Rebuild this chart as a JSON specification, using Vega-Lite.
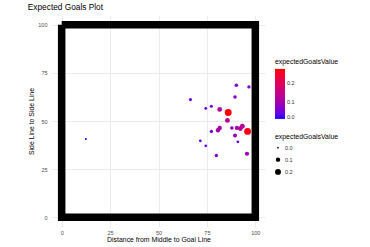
{
  "$schema": "https://vega.github.io/schema/vega-lite/v6.json",
  "width": 213,
  "height": 212,
  "autosize": {"type": "none"},
  "padding": {"left": 52, "top": 15, "right": 105, "bottom": 20},
  "background": "white",
  "title": {"text": "Expected Goals Plot", "anchor": "start", "fontSize": 8.3, "fontWeight": "normal", "color": "black", "font": "Liberation Sans", "offset": -2},
  "config": {
    "view": {"stroke": null},
    "font": "Liberation Sans",
    "axis": {
      "domain": false, "ticks": false,
      "labelFont": "Liberation Sans", "labelFontSize": 5.5, "labelColor": "#4D4D4D",
      "titleFont": "Liberation Sans", "titleFontSize": 6.9, "titleFontWeight": "normal", "titleColor": "black",
      "gridColor": "#EBEBEB",
      "gridWidth": {"condition": {"test": "datum.value % 25 !== 0", "value": 0.5}, "value": 1},
      "labelExpr": "datum.value % 25 === 0 ? datum.label : ''",
      "labelFlush": false, "labelOverlap": false
    },
    "legend": {
      "titleFont": "Liberation Sans", "titleFontSize": 6.9, "titleFontWeight": "normal", "titleColor": "black",
      "labelFont": "Liberation Sans", "labelFontSize": 5.5, "labelColor": "#333333"
    }
  },
  "datasets": {
    "pitch": [
      {"px": 0, "py": 100, "o": 0},
      {"px": 100, "py": 100, "o": 1},
      {"px": 100, "py": 0, "o": 2},
      {"px": 0, "py": 0, "o": 3},
      {"px": 0, "py": 100, "o": 4}
    ],
    "shots": [
      {"x": 12.5, "y": 40.7, "expectedGoalsValue": 0.005},
      {"x": 66.5, "y": 61.1, "expectedGoalsValue": 0.04},
      {"x": 74.4, "y": 56.5, "expectedGoalsValue": 0.03},
      {"x": 77.3, "y": 57.7, "expectedGoalsValue": 0.04},
      {"x": 81.6, "y": 56.0, "expectedGoalsValue": 0.12},
      {"x": 86.0, "y": 54.4, "expectedGoalsValue": 0.28},
      {"x": 90.2, "y": 68.5, "expectedGoalsValue": 0.06},
      {"x": 96.7, "y": 67.7, "expectedGoalsValue": 0.05},
      {"x": 89.5, "y": 62.5, "expectedGoalsValue": 0.06},
      {"x": 85.6, "y": 50.3, "expectedGoalsValue": 0.13},
      {"x": 77.3, "y": 44.6, "expectedGoalsValue": 0.05},
      {"x": 80.7, "y": 45.2, "expectedGoalsValue": 0.10},
      {"x": 81.6, "y": 46.4, "expectedGoalsValue": 0.10},
      {"x": 87.9, "y": 46.4, "expectedGoalsValue": 0.06},
      {"x": 90.5, "y": 46.4, "expectedGoalsValue": 0.10},
      {"x": 92.3, "y": 46.1, "expectedGoalsValue": 0.12},
      {"x": 93.3, "y": 47.3, "expectedGoalsValue": 0.13},
      {"x": 96.0, "y": 44.6, "expectedGoalsValue": 0.27},
      {"x": 89.5, "y": 42.5, "expectedGoalsValue": 0.08},
      {"x": 71.6, "y": 39.7, "expectedGoalsValue": 0.03},
      {"x": 74.4, "y": 37.1, "expectedGoalsValue": 0.03},
      {"x": 91.0, "y": 39.2, "expectedGoalsValue": 0.03},
      {"x": 79.9, "y": 32.1, "expectedGoalsValue": 0.05},
      {"x": 95.7, "y": 33.0, "expectedGoalsValue": 0.09}
    ]
  },
  "layer": [
    {
      "data": {"name": "pitch"},
      "mark": {"type": "line", "color": "black", "strokeWidth": 7.5, "strokeCap": "butt", "strokeJoin": "miter"},
      "encoding": {
        "x": {"field": "px", "type": "quantitative", "scale": {"domain": [-5, 105], "nice": false, "zero": false},
              "axis": {"values": [0, 12.5, 25, 37.5, 50, 62.5, 75, 87.5, 100], "title": "Distance from Middle to Goal Line", "labelPadding": 3, "titlePadding": 1}},
        "y": {"field": "py", "type": "quantitative", "scale": {"domain": [-5, 105], "nice": false, "zero": false},
              "axis": {"values": [0, 12.5, 25, 37.5, 50, 62.5, 75, 87.5, 100], "title": "Side Line to Side Line", "labelPadding": 5, "titlePadding": 3}},
        "order": {"field": "o", "type": "quantitative"}
      }
    },
    {
      "data": {"name": "shots"},
      "mark": {"type": "circle", "opacity": 1},
      "encoding": {
        "x": {"field": "x", "type": "quantitative"},
        "y": {"field": "y", "type": "quantitative"},
        "color": {"field": "expectedGoalsValue", "type": "quantitative",
                  "scale": {"range": ["blue", "red"], "interpolate": "lab", "domain": [0.005, 0.28]},
                  "legend": {"orient": "none", "legendX": 223, "legendY": 44, "gradientLength": 50, "gradientThickness": 10, "values": [0, 0.1, 0.2], "format": ".1f", "titlePadding": 3, "gradientStrokeWidth": 0, "direction": "vertical"}},
        "size": {"field": "expectedGoalsValue", "type": "quantitative",
                 "scale": {"domain": [0, 0.28], "range": [3, 48]},
                 "legend": {"orient": "none", "legendX": 223, "legendY": 119, "values": [0, 0.1, 0.2], "format": ".1f", "symbolFillColor": "black", "symbolStrokeWidth": 0, "titlePadding": 4, "rowPadding": 5}}
      }
    }
  ]
}
